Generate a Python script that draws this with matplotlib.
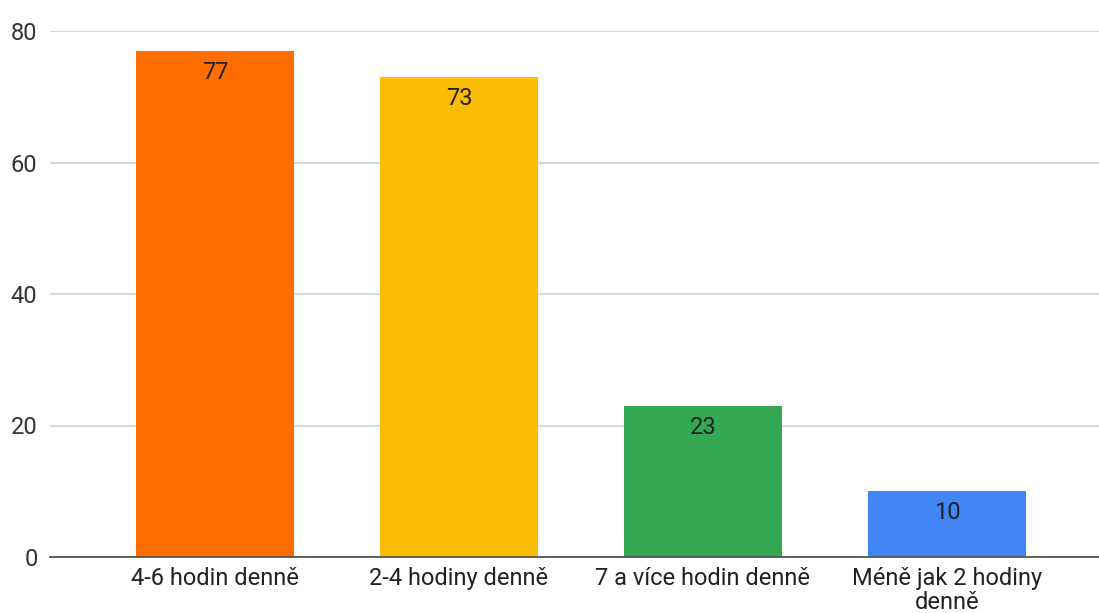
import matplotlib
matplotlib.use("Agg")
import matplotlib.pyplot as plt

categories = ["4-6 hodin denně", "2-4 hodiny denně", "7 a více hodin denně", "Méně jak 2 hodiny\ndenně"]
values = [77, 73, 23, 10]
colors = ["#FF6D01", "#FBBC04", "#34A853", "#4285F4"]
yticks = [0, 20, 40, 60, 80]

plt.rcParams["font.family"] = ["Roboto", "DejaVu Sans"]

fig = plt.figure(figsize=(10.99, 6.13), dpi=100)
ax = fig.add_axes([50 / 1099, 1 - 557 / 613, 1049 / 1099, 526 / 613])

width = 0.645
x = list(range(len(categories)))
bars = ax.bar(x, values, width=width, color=colors, zorder=3)

for b, v in zip(bars, values):
    ax.text(b.get_x() + b.get_width() / 2, v - 3.3, str(v), ha="center", va="center",
            fontsize=17, color="#222222", zorder=4)

ax.set_xlim(-0.676, 3.623)
ax.set_ylim(0, 80)
ax.set_yticks(yticks)
ax.set_yticklabels([str(t) for t in yticks], fontsize=17, color="#333333")
ax.set_xticks(x)
ax.set_xticklabels(categories, fontsize=17, color="#222222", linespacing=1.05)
ax.tick_params(axis="both", length=0)
ax.tick_params(axis="y", pad=9)
ax.tick_params(axis="x", pad=7)

ax.yaxis.grid(True, color="#D0D0D0", linewidth=1.2, zorder=0)
for s in ["top", "right", "left"]:
    ax.spines[s].set_visible(False)
ax.spines["bottom"].set_color("#555555")
ax.spines["bottom"].set_linewidth(1.3)
ax.spines["bottom"].set_zorder(5)

fig.savefig("out.png", dpi=100)
